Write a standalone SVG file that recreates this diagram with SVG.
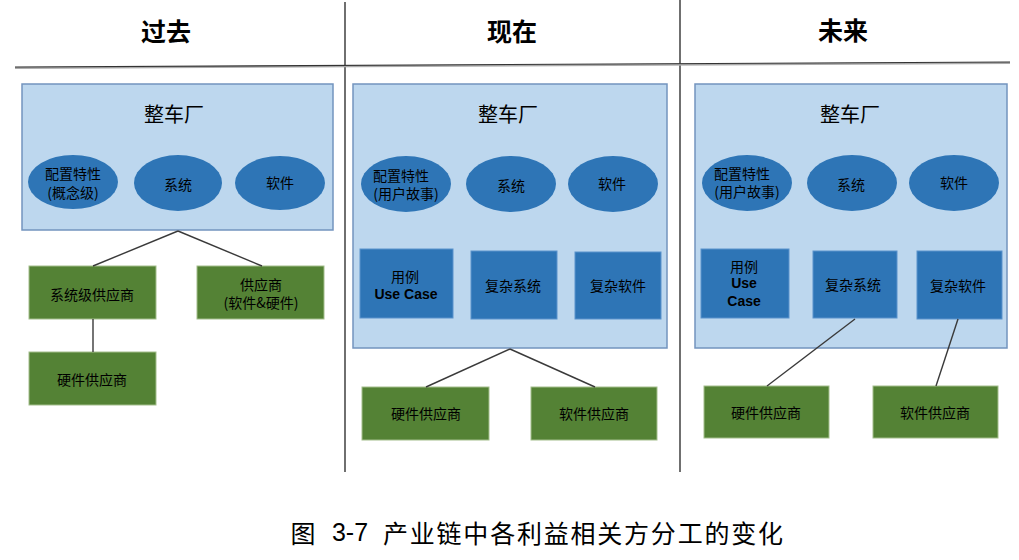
<svg xmlns="http://www.w3.org/2000/svg" width="1019" height="560" viewBox="0 0 1019 560">
<style>
text{font-family:"Noto Sans CJK SC","Liberation Sans",sans-serif;fill:#000;text-anchor:middle;dominant-baseline:central}
.hdr{font-size:25px;font-weight:bold}
.ttl{font-size:20px}
.t{font-size:14px}
.en{font-family:"Liberation Sans","Noto Sans CJK SC",sans-serif;font-size:14px;font-weight:bold}
.panel{fill:#BDD7EE;stroke:#7394BE;stroke-width:1.5}
.ell{fill:#2E75B6}
.blue{fill:#2E75B6;stroke:#5B93CC;stroke-width:1}
.green{fill:#548235;stroke:#A3BE8C;stroke-width:1}
.conn line{stroke:#3A3A3A;stroke-width:1.4}
.div{stroke:#222;stroke-width:1.3}
.cap{font-size:25px}
</style>
<rect width="1019" height="560" fill="#fff"/>
<g id="dividers">
<line class="div" x1="345" y1="2" x2="345" y2="472"/>
<line class="div" x1="680" y1="0" x2="680" y2="472"/>
<line x1="15" y1="68" x2="1010" y2="63" stroke="#AAA" stroke-width="2"/>
<line x1="15" y1="67" x2="1010" y2="62" stroke="#333" stroke-width="1.2"/>
</g>
<g id="headers">
<text class="hdr" x="166" y="30">过去</text>
<text class="hdr" x="512" y="30">现在</text>
<text class="hdr" x="843" y="29">未来</text>
</g>
<g id="past-oem">
<rect class="panel" x="22" y="84" width="311" height="146"/>
<text class="ttl" x="174" y="113">整车厂</text>
</g>
<g id="past-config"><ellipse class="ell" cx="73" cy="182" rx="45" ry="27"/><text class="t" x="73" y="173">配置特性</text><text class="t" x="73" y="192">(概念级)</text></g>
<g id="past-system"><ellipse class="ell" cx="178" cy="183" rx="44" ry="28"/><text class="t" x="178" y="184">系统</text></g>
<g id="past-software"><ellipse class="ell" cx="280" cy="183" rx="45" ry="27"/><text class="t" x="280" y="182">软件</text></g>
<g id="past-syssupplier"><rect class="green" x="29" y="266" width="127" height="53"/><text class="t" x="92" y="294">系统级供应商</text></g>
<g id="past-supplier"><rect class="green" x="197" y="266" width="127" height="53"/><text class="t" x="261" y="284">供应商</text><text class="t" x="261" y="302">(软件&amp;硬件)</text></g>
<g id="past-hwsupplier"><rect class="green" x="29" y="352" width="127" height="53"/><text class="t" x="92" y="379">硬件供应商</text></g>

<g id="now-oem">
<rect class="panel" x="353" y="84" width="314" height="264"/>
<text class="ttl" x="508" y="113">整车厂</text>
</g>
<g id="now-config"><ellipse class="ell" cx="406" cy="184" rx="45" ry="28"/><text class="t" x="401" y="175">配置特性</text><text class="t" x="406" y="193">(用户故事)</text></g>
<g id="now-system"><ellipse class="ell" cx="511" cy="184" rx="45" ry="28"/><text class="t" x="511" y="185">系统</text></g>
<g id="now-software"><ellipse class="ell" cx="613" cy="184" rx="45" ry="28"/><text class="t" x="612" y="183">软件</text></g>
<g id="now-usecase"><rect class="blue" x="360" y="249" width="93" height="69"/><text class="t" x="405" y="276">用例</text><text class="en" x="406" y="294">Use Case</text></g>
<g id="now-complexsys"><rect class="blue" x="471" y="251" width="86" height="68"/><text class="t" x="513" y="285">复杂系统</text></g>
<g id="now-complexsw"><rect class="blue" x="575" y="252" width="86" height="67"/><text class="t" x="618" y="285">复杂软件</text></g>
<g id="now-hwsupplier"><rect class="green" x="362" y="387" width="127" height="53"/><text class="t" x="426" y="413">硬件供应商</text></g>
<g id="now-swsupplier"><rect class="green" x="531" y="387" width="126" height="53"/><text class="t" x="594" y="413">软件供应商</text></g>

<g id="future-oem">
<rect class="panel" x="695" y="84" width="312" height="264"/>
<text class="ttl" x="850" y="113">整车厂</text>
</g>
<g id="future-config"><ellipse class="ell" cx="747" cy="183" rx="45" ry="28"/><text class="t" x="742" y="173">配置特性</text><text class="t" x="747" y="191">(用户故事)</text></g>
<g id="future-system"><ellipse class="ell" cx="852" cy="183" rx="45" ry="28"/><text class="t" x="851" y="184">系统</text></g>
<g id="future-software"><ellipse class="ell" cx="954" cy="183" rx="45" ry="28"/><text class="t" x="954" y="182">软件</text></g>
<g id="future-usecase"><rect class="blue" x="701" y="249" width="88" height="69"/><text class="t" x="744" y="266">用例</text><text class="en" x="744" y="283">Use</text><text class="en" x="744" y="301">Case</text></g>
<g id="future-complexsys"><rect class="blue" x="813" y="251" width="84" height="67"/><text class="t" x="853" y="284">复杂系统</text></g>
<g id="future-complexsw"><rect class="blue" x="917" y="251" width="85" height="68"/><text class="t" x="958" y="285">复杂软件</text></g>
<g id="future-hwsupplier"><rect class="green" x="704" y="386" width="125" height="52"/><text class="t" x="766" y="412">硬件供应商</text></g>
<g id="future-swsupplier"><rect class="green" x="873" y="386" width="125" height="52"/><text class="t" x="935" y="412">软件供应商</text></g>

<g id="connectors" class="conn">
<line x1="178" y1="231" x2="93" y2="266"/>
<line x1="178" y1="231" x2="262" y2="266"/>
<line x1="93" y1="319" x2="93" y2="352"/>
<line x1="510" y1="349" x2="426" y2="387"/>
<line x1="510" y1="349" x2="595" y2="387"/>
<line x1="855" y1="319" x2="767" y2="386"/>
<line x1="958" y1="319" x2="936" y2="386"/>
</g>

<g id="caption">
<text class="cap" x="303" y="532">图</text>
<text class="cap" x="350" y="532" style="font-family:'Liberation Sans',sans-serif">3-7</text>
<text class="cap" x="583" y="532" textLength="400" lengthAdjust="spacing">产业链中各利益相关方分工的变化</text>
</g>
</svg>
